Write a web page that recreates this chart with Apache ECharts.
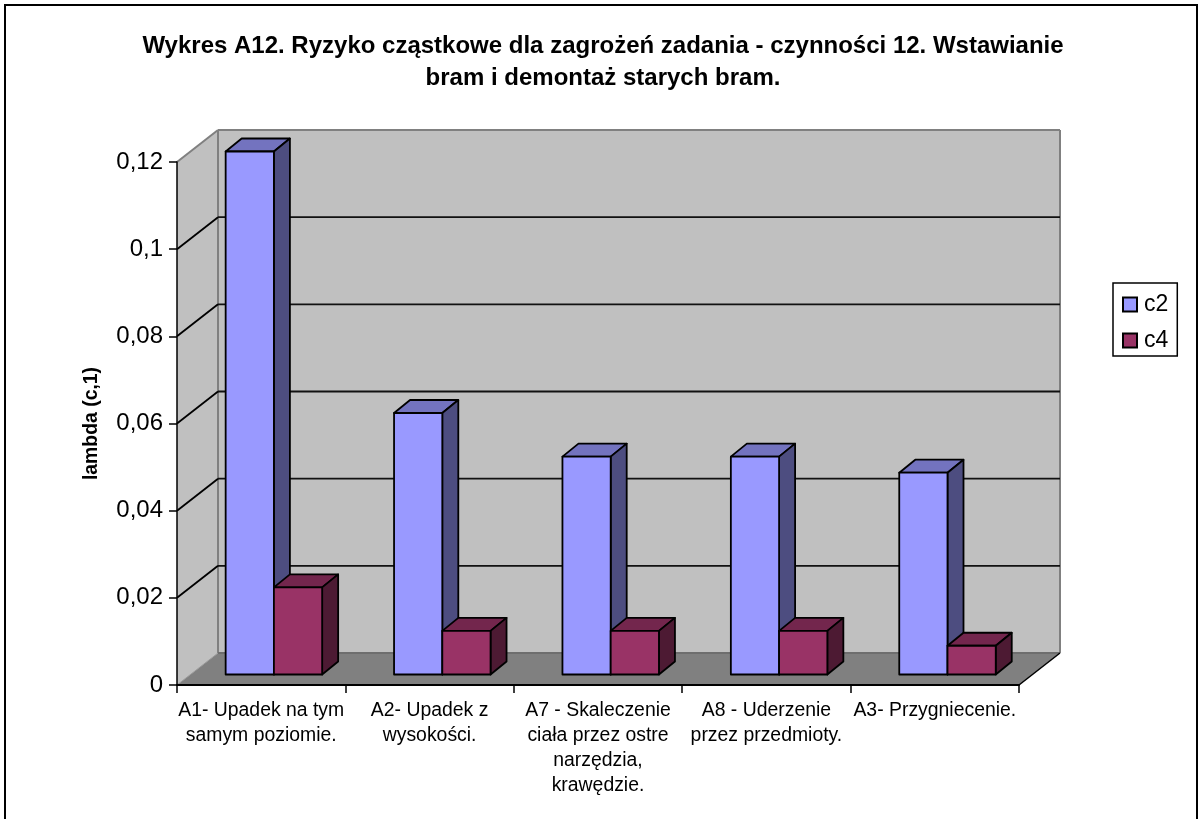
<!DOCTYPE html>
<html><head><meta charset="utf-8">
<style>html,body{margin:0;padding:0;background:#fff}#c{width:1198px;height:819px}</style>
<script src="https://cdn.jsdelivr.net/npm/echarts@6/dist/echarts.min.js"></script>
</head><body><div id="c"></div>
<script>
const categories = [
  'A1- Upadek na tym\nsamym poziomie.',
  'A2- Upadek z\nwysokości.',
  'A7 - Skaleczenie\nciała przez ostre\nnarzędzia,\nkrawędzie.',
  'A8 - Uderzenie\nprzez przedmioty.',
  'A3- Przygniecenie.'
];
const c2 = [0.12, 0.06, 0.05, 0.05, 0.0463];
const c4 = [0.02, 0.01, 0.01, 0.01, 0.0066];
const valueTicks = [0.02, 0.04, 0.06, 0.08, 0.1];
const titleText = 'Wykres A12. Ryzyko cząstkowe dla zagrożeń zadania - czynności 12. Wstawianie\nbram i demontaż starych bram.';
const yName = 'lambda (c,1)';

const FONT = '"Liberation Sans", Arial, sans-serif';
const WALL_DX = 41, WALL_DY = -32;          // depth of the box
const BAR_DX = 12.7, BAR_DY = -10.5;        // bar front plane
const BAR_DEPTH_X = 16, BAR_DEPTH_Y = -13;  // bar depth
const GROUP_FILL = 0.573;                   // group share of band

function poly(points, fill, stroke, lw) {
  return { type: 'polygon', shape: { points }, style: { fill, stroke: stroke || 'none', lineWidth: lw || 0, lineJoin: 'round' } };
}
function seg(a, b, stroke, lw) {
  return { type: 'line', shape: { x1: a[0], y1: a[1], x2: b[0], y2: b[1] }, style: { stroke, lineWidth: lw } };
}
function wallsItem(params, api) {
  const band = api.size([1, 0])[0];
  const x0 = api.coord([0, 0])[0] - band / 2;
  const x1 = api.coord([categories.length - 1, 0])[0] + band / 2;
  const y0 = api.coord([0, 0])[1];
  const yT = api.coord([0, api.value(0)])[1];
  const d = [WALL_DX, WALL_DY];
  const edge = '#808080';
  return { type: 'group', children: [
    poly([[x0, y0], [x0 + d[0], y0 + d[1]], [x0 + d[0], yT + d[1]], [x0, yT]], '#C0C0C0'),
    poly([[x0 + d[0], y0 + d[1]], [x1 + d[0], y0 + d[1]], [x1 + d[0], yT + d[1]], [x0 + d[0], yT + d[1]]], '#C0C0C0'),
    poly([[x0, y0], [x1, y0], [x1 + d[0], y0 + d[1]], [x0 + d[0], y0 + d[1]]], '#808080'),
    seg([x0, yT], [x0 + d[0], yT + d[1]], edge, 2),
    seg([x0 + d[0], yT + d[1]], [x1 + d[0], yT + d[1]], edge, 2),
    seg([x1 + d[0], yT + d[1]], [x1 + d[0], y0 + d[1]], edge, 2),
    seg([x0 + d[0], yT + d[1]], [x0 + d[0], y0 + d[1]], edge, 2),
    seg([x0 + d[0], y0 + d[1]], [x1 + d[0], y0 + d[1]], '#6e6e6e', 2),
    seg([x1, y0], [x1 + d[0], y0 + d[1]], '#000', 1.5),
    seg([x0, y0], [x0 + d[0], y0 + d[1]], '#9a9a9a', 1)
  ]};
}
function gridItem(params, api) {
  const band = api.size([1, 0])[0];
  const v = api.value(0);
  const x0 = api.coord([0, 0])[0] - band / 2;
  const x1 = api.coord([categories.length - 1, 0])[0] + band / 2;
  const y = api.coord([0, v])[1];
  return { type: 'group', children: [
    seg([x0, y], [x0 + WALL_DX, y + WALL_DY], '#000', 1.8),
    seg([x0 + WALL_DX, y + WALL_DY], [x1 + WALL_DX, y + WALL_DY], '#111', 1.8)
  ]};
}
function barRenderer(seriesIdx, front, top, side) {
  return function (params, api) {
    const band = api.size([1, 0])[0];
    const w = band * GROUP_FILL / 2;
    const cx = api.coord([api.value(0), 0])[0];
    const y0 = api.coord([api.value(0), 0])[1] + BAR_DY;
    const y1 = api.coord([api.value(0), api.value(1)])[1] + BAR_DY;
    const xa = cx - w + seriesIdx * w + BAR_DX;
    const xb = xa + w;
    const dx = BAR_DEPTH_X, dy = BAR_DEPTH_Y;
    const lw = 1.8;
    return { type: 'group', children: [
      poly([[xa, y1], [xb, y1], [xb + dx, y1 + dy], [xa + dx, y1 + dy]], top, '#000', lw),
      poly([[xb, y1], [xb + dx, y1 + dy], [xb + dx, y0 + dy], [xb, y0]], side, '#000', lw),
      poly([[xa, y0], [xb, y0], [xb, y1], [xa, y1]], front, '#000', lw)
    ]};
  };
}

const chart = echarts.init(document.getElementById('c'), null, { renderer: 'canvas' });
chart.setOption({
  animation: false,
  backgroundColor: '#fff',
  textStyle: { fontFamily: FONT },
  title: {
    text: titleText, left: 598, top: 25, textAlign: 'center',
    textStyle: { fontFamily: FONT, fontSize: 24, fontWeight: 'bold', color: '#000', lineHeight: 32 }
  },
  legend: {
    orient: 'vertical', left: 1113, top: 283,
    data: ['c2', 'c4'], selectedMode: false,
    backgroundColor: '#fff', borderColor: '#000', borderWidth: 1.5,
    padding: [10, 9, 4, 9], itemGap: 13, itemWidth: 14, itemHeight: 14, icon: 'rect',
    textStyle: { fontFamily: FONT, fontSize: 23, color: '#000', padding: [0, 0, 0, 2] }
  },
  grid: { left: 177, right: 179, top: 162, bottom: 134 },
  xAxis: {
    type: 'category', data: categories, boundaryGap: true, z: 5,
    axisLine: { lineStyle: { color: '#000', width: 2 } },
    axisTick: { show: true, length: 8, alignWithLabel: false, lineStyle: { color: '#000', width: 1.5 } },
    axisLabel: { interval: 0, color: '#000', fontFamily: FONT, fontSize: 19.4, lineHeight: 25, margin: 13, align: 'center' },
    splitLine: { show: false }
  },
  yAxis: {
    type: 'value', min: 0, max: 0.12, interval: 0.02, z: 5,
    name: yName, nameLocation: 'middle', nameGap: 76, nameRotate: 90,
    nameTextStyle: { fontFamily: FONT, fontSize: 19.4, fontWeight: 'bold', color: '#000' },
    axisLine: { show: true, lineStyle: { color: '#000', width: 1.5 } },
    axisTick: { show: true, length: 8, lineStyle: { color: '#000', width: 1.5 } },
    axisLabel: { color: '#000', fontFamily: FONT, fontSize: 24, margin: 14,
      formatter: v => String(+v.toFixed(2)).replace('.', ',') },
    splitLine: { show: false }
  },
  series: [
    { type: 'custom', silent: true, z: 1, clip: false, data: [[0.12]], encode: { y: 0 }, renderItem: wallsItem, legendHoverLink: false },
    { type: 'custom', silent: true, z: 2, clip: false, data: valueTicks.map(v => [v]), encode: { y: 0 }, renderItem: gridItem },
    { type: 'custom', name: 'c2', z: 3, clip: false, silent: true, itemStyle: { color: '#9999FF', borderColor: '#000', borderWidth: 1.5 },
      data: c2.map((v, i) => [i, v]), encode: { x: 0, y: 1 }, renderItem: barRenderer(0, '#9999FF', '#7373BF', '#4D4D80') },
    { type: 'custom', name: 'c4', z: 4, clip: false, silent: true, itemStyle: { color: '#993366', borderColor: '#000', borderWidth: 1.5 },
      data: c4.map((v, i) => [i, v]), encode: { x: 0, y: 1 }, renderItem: barRenderer(1, '#993366', '#73264D', '#4D1A33') }
  ],
  graphic: [{ type: 'rect', silent: true, z: 100, shape: { x: 5, y: 5, width: 1192, height: 840 },
    style: { fill: 'none', stroke: '#000', lineWidth: 2 } }]
});
</script></body></html>
